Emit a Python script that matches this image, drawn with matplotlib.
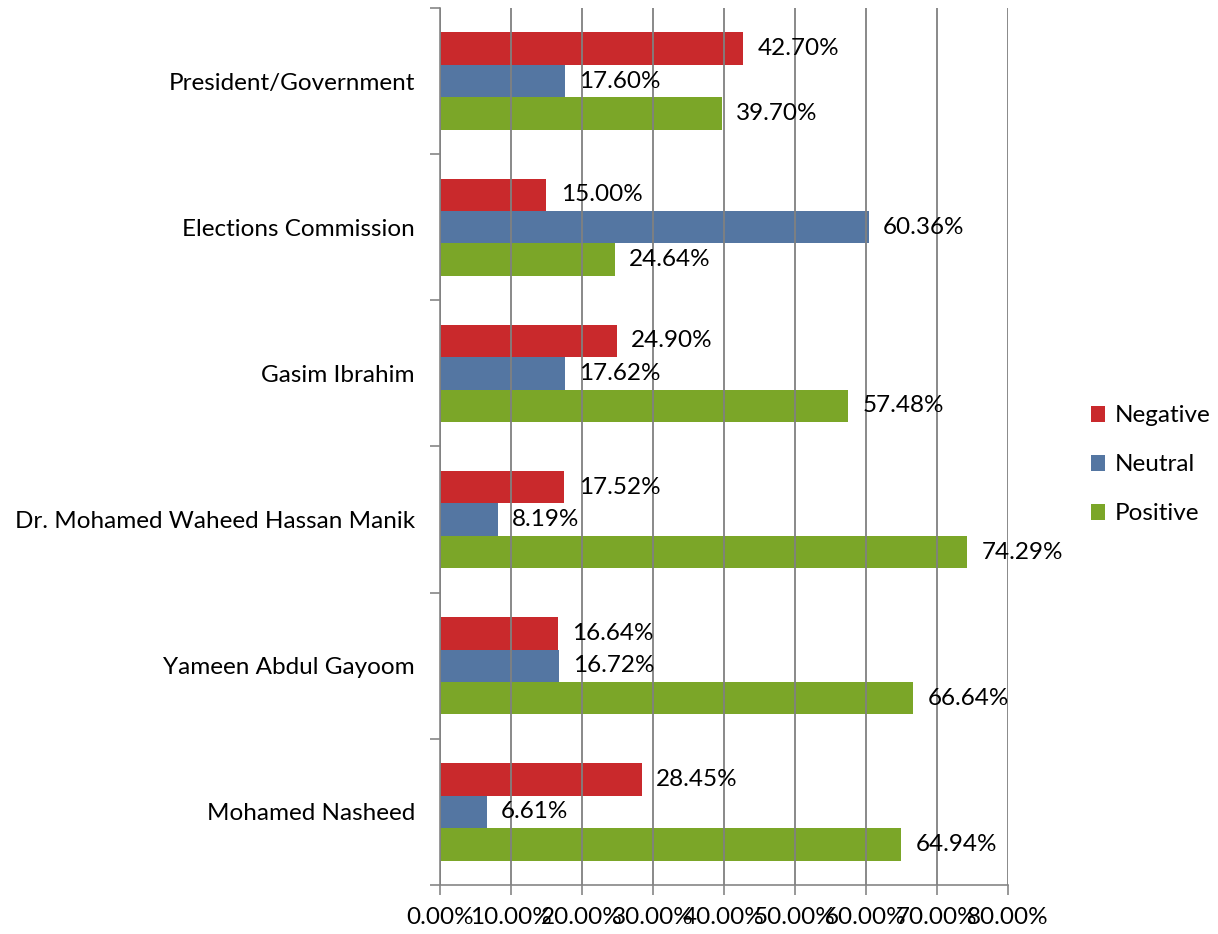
import matplotlib.pyplot as plt
import numpy as np
from matplotlib.ticker import FixedLocator, PercentFormatter

# Sentiment share per person / institution (top to bottom as shown)
names = ['President/Government', 'Elections Commission', 'Gasim Ibrahim',
         'Dr. Mohamed Waheed Hassan Manik', 'Yameen Abdul Gayoom', 'Mohamed Nasheed']
negative = [42.70, 15.00, 24.90, 17.52, 16.64, 28.45]
neutral = [17.60, 60.36, 17.62, 8.19, 16.72, 6.61]
positive = [39.70, 24.64, 57.48, 74.29, 66.64, 64.94]

series = [('Negative', negative, '#C9292C'),
          ('Neutral', neutral, '#5476A2'),
          ('Positive', positive, '#7BA628')]

plt.rcParams['font.family'] = ['Lato', 'DejaVu Sans']
fs = 17.5

fig = plt.figure(figsize=(12.18, 9.34), dpi=100)
ax = fig.add_axes([0.3612, 0.0525, 0.8276 - 0.3612, 0.9914 - 0.0525])

n = len(names)
# row 0 at the top
y = np.arange(n)[::-1]
h = 0.222

for i, (label, vals, color) in enumerate(series):
    pos = y + h - i * h
    ax.barh(pos, vals, height=h, color=color, label=label, zorder=2)
    for p, v in zip(pos, vals):
        ax.text(v + 2.0, p, '{:.2f}%'.format(v), va='center', ha='left',
                fontsize=fs, zorder=4)

ax.set_xlim(0, 80)
ax.set_ylim(-0.5, n - 0.5)
ax.set_xticks(np.arange(0, 81, 10))
ax.xaxis.set_major_formatter(PercentFormatter(decimals=2))

# category boundaries as tick marks, names centered between them
ax.yaxis.set_major_locator(FixedLocator(np.arange(-0.5, n, 1.0)))
ax.set_yticklabels([''] * (n + 1))
ax.set_yticks(y, minor=True)
ax.set_yticklabels(names, minor=True, fontsize=fs)
ax.tick_params(axis='y', which='minor', length=0, pad=18)
ax.tick_params(axis='y', which='major', length=7, color='#868686', width=1.2)
ax.tick_params(axis='x', length=7, color='#868686', width=1.2, pad=9,
               labelsize=fs)

ax.grid(axis='x', color='#808080', linewidth=1.3, zorder=3)
ax.set_axisbelow(False)

for s in ['top', 'right']:
    ax.spines[s].set_visible(False)
for s in ['left', 'bottom']:
    ax.spines[s].set_color('#868686')
    ax.spines[s].set_linewidth(1.2)

ax.legend(loc='center left', bbox_to_anchor=(1.107, 0.479), frameon=False,
          handlelength=0.6, handleheight=0.6, handletextpad=0.4,
          labelspacing=1.15, fontsize=fs)

plt.savefig('out.png', dpi=100)
